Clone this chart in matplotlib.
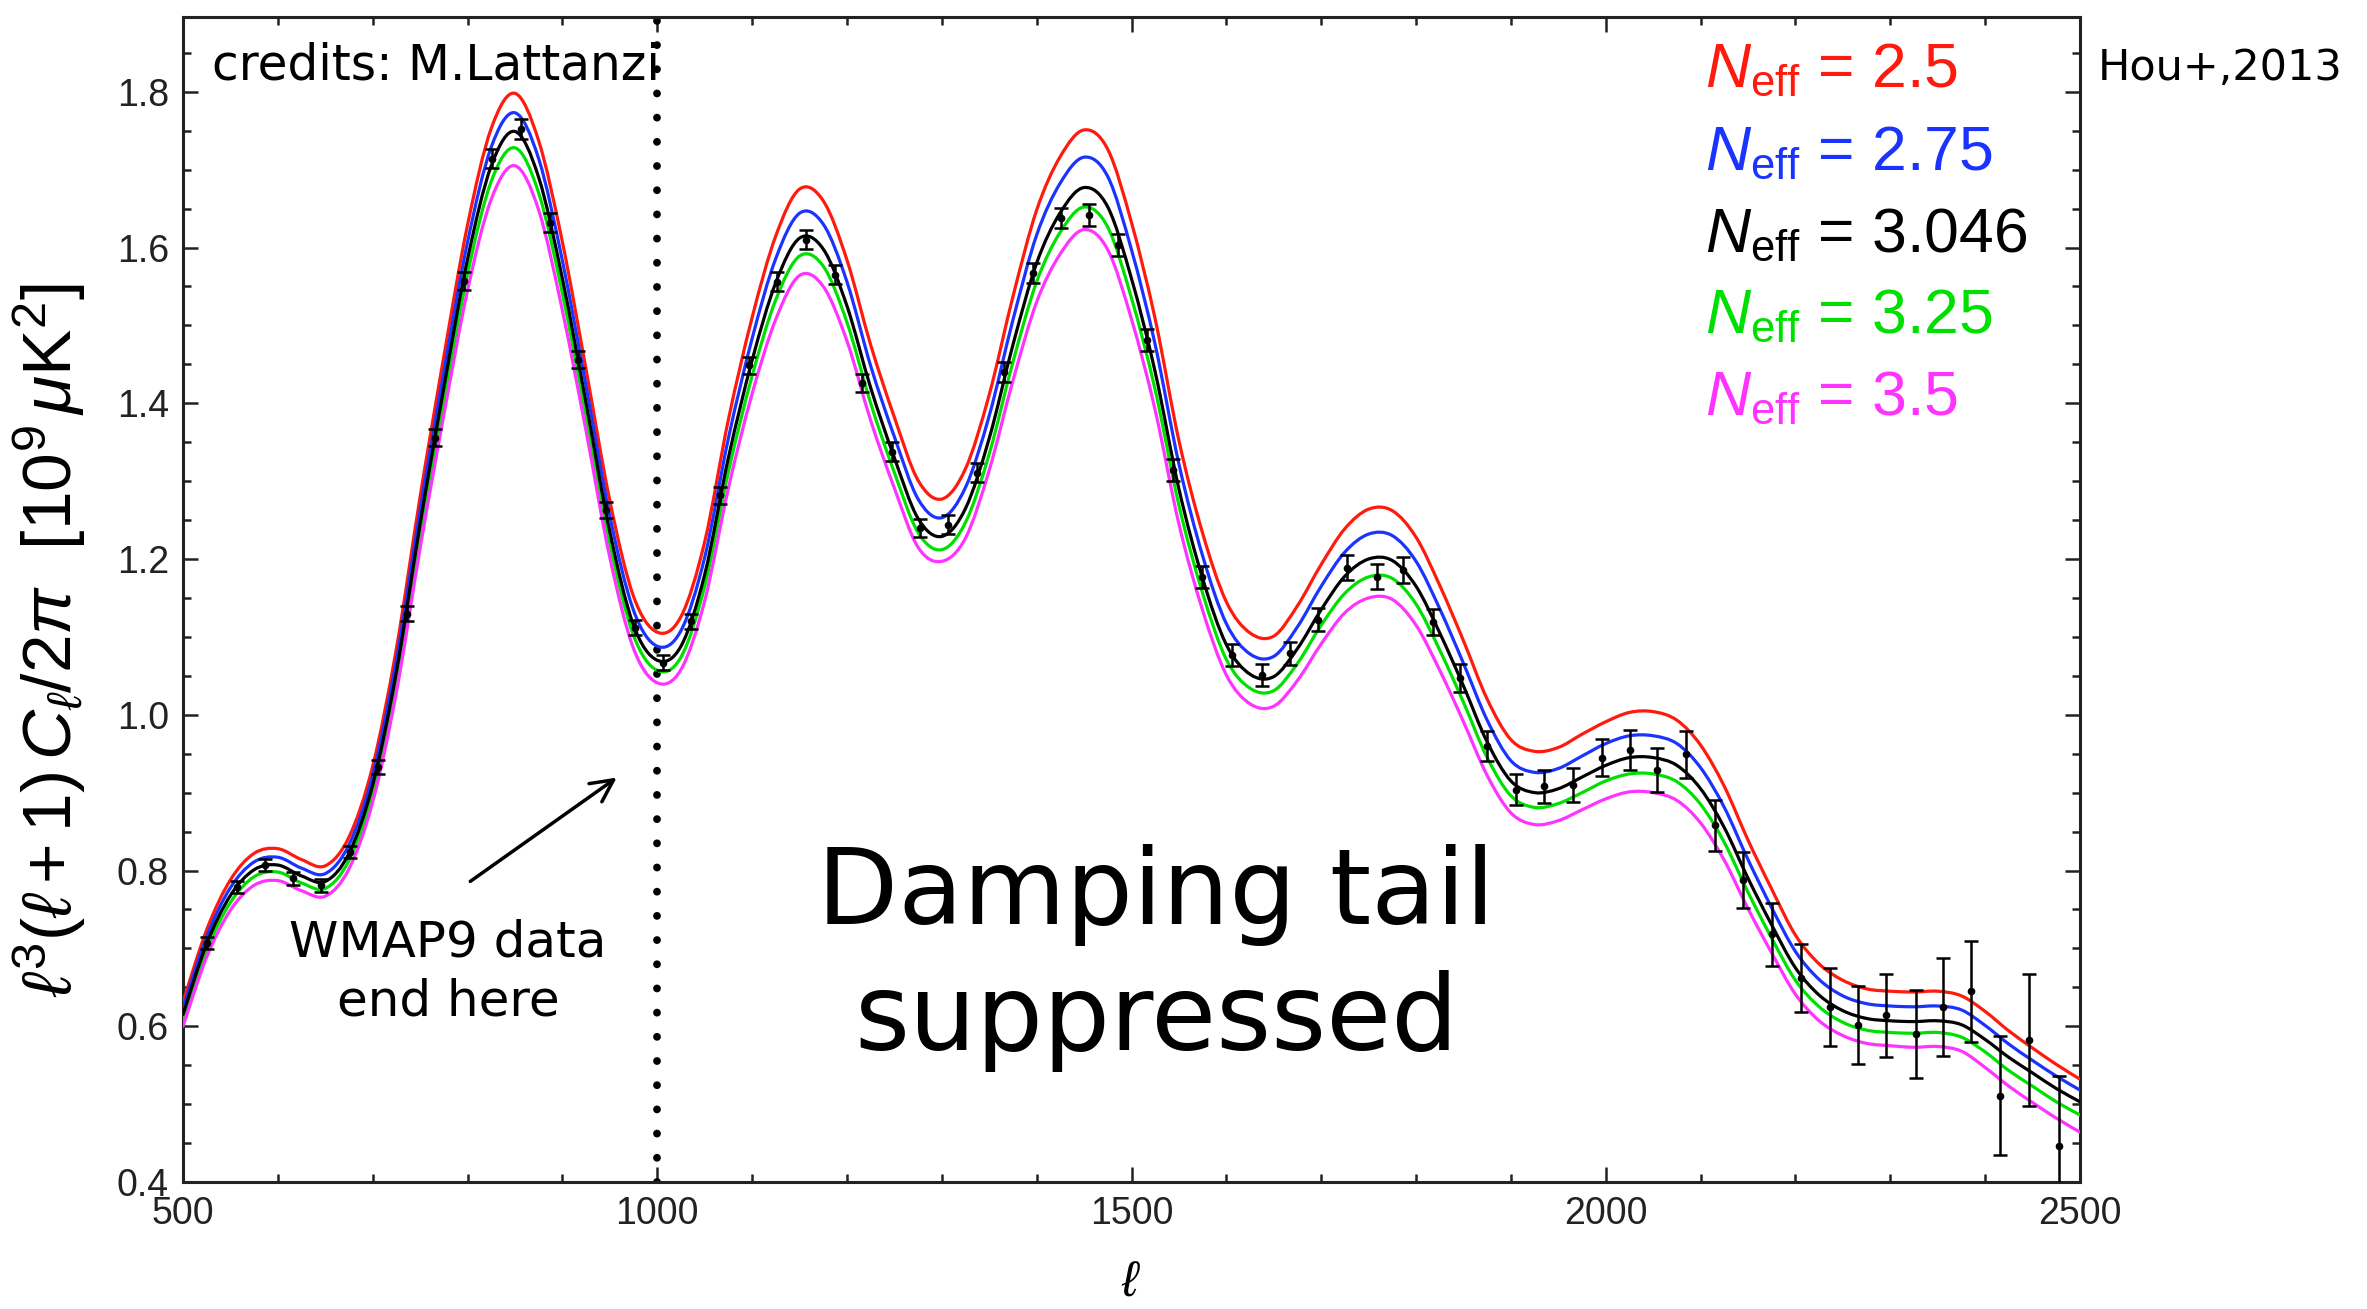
import numpy as np
import matplotlib
matplotlib.use('Agg')
import matplotlib.pyplot as plt
from matplotlib.path import Path
from matplotlib.patches import PathPatch
from matplotlib.ticker import MultipleLocator, FormatStrFormatter

plt.rcParams['font.family'] = ['Liberation Sans', 'DejaVu Sans']
plt.rcParams['mathtext.fontset'] = 'custom'
plt.rcParams['mathtext.rm'] = 'Liberation Sans'
plt.rcParams['mathtext.it'] = 'Liberation Sans:italic'
plt.rcParams['mathtext.bf'] = 'Liberation Sans:bold'

HAND = 'DejaVu Sans'

# ------------------------------------------------------------
# model spectra  l^3(l+1)C_l/2pi  [1e9 uK^2], sampled every 25 in l
# ------------------------------------------------------------
ell_model = list(range(500, 2525, 25))

cl_3046 = [0.615, 0.706, 0.768, 0.801, 0.807, 0.793, 0.786, 0.822, 0.910, 1.055,
           1.245, 1.420, 1.585, 1.705, 1.749, 1.690, 1.560, 1.400, 1.235, 1.115,
           1.070, 1.088, 1.180, 1.330, 1.455, 1.555, 1.612, 1.598, 1.525, 1.420,
           1.330, 1.252, 1.229, 1.265, 1.355, 1.475, 1.580, 1.645, 1.677, 1.652,
           1.560, 1.440, 1.290, 1.175, 1.090, 1.052, 1.049, 1.085, 1.135, 1.178,
           1.200, 1.198, 1.165, 1.105, 1.037, 0.965, 0.915, 0.900, 0.905, 0.920,
           0.935, 0.945, 0.945, 0.935, 0.905, 0.855, 0.790, 0.730, 0.675, 0.640,
           0.620, 0.610, 0.607, 0.606, 0.607, 0.602, 0.583, 0.560, 0.540, 0.520,
           0.503]

cl_25 = [0.631, 0.724, 0.788, 0.822, 0.828, 0.814, 0.806, 0.843, 0.934, 1.085,
         1.280, 1.460, 1.629, 1.753, 1.798, 1.737, 1.607, 1.443, 1.275, 1.152,
         1.106, 1.126, 1.222, 1.379, 1.510, 1.615, 1.675, 1.660, 1.584, 1.475,
         1.382, 1.301, 1.277, 1.316, 1.411, 1.537, 1.648, 1.717, 1.751, 1.726,
         1.632, 1.508, 1.352, 1.233, 1.145, 1.105, 1.101, 1.140, 1.193, 1.239,
         1.264, 1.262, 1.228, 1.166, 1.095, 1.020, 0.968, 0.953, 0.958, 0.975,
         0.991, 1.003, 1.004, 0.993, 0.961, 0.908, 0.839, 0.776, 0.717, 0.680,
         0.659, 0.648, 0.645, 0.644, 0.645, 0.639, 0.619, 0.594, 0.572, 0.551,
         0.532]

cl_275 = [0.623, 0.715, 0.778, 0.811, 0.817, 0.803, 0.796, 0.833, 0.922, 1.070,
          1.262, 1.440, 1.607, 1.729, 1.773, 1.714, 1.583, 1.422, 1.255, 1.134,
          1.088, 1.108, 1.202, 1.355, 1.483, 1.586, 1.644, 1.630, 1.556, 1.448,
          1.357, 1.277, 1.253, 1.292, 1.384, 1.507, 1.616, 1.683, 1.716, 1.691,
          1.597, 1.475, 1.322, 1.204, 1.117, 1.078, 1.075, 1.113, 1.165, 1.209,
          1.232, 1.230, 1.197, 1.136, 1.066, 0.993, 0.941, 0.926, 0.931, 0.947,
          0.963, 0.973, 0.973, 0.963, 0.932, 0.881, 0.814, 0.752, 0.696, 0.660,
          0.639, 0.629, 0.626, 0.625, 0.626, 0.621, 0.601, 0.577, 0.556, 0.536,
          0.518]

cl_325 = [0.608, 0.698, 0.759, 0.792, 0.798, 0.784, 0.777, 0.813, 0.900, 1.042,
          1.230, 1.403, 1.566, 1.685, 1.728, 1.670, 1.541, 1.383, 1.220, 1.102,
          1.057, 1.074, 1.165, 1.312, 1.435, 1.533, 1.589, 1.576, 1.504, 1.400,
          1.311, 1.234, 1.212, 1.247, 1.335, 1.453, 1.556, 1.620, 1.652, 1.626,
          1.535, 1.417, 1.269, 1.156, 1.071, 1.034, 1.031, 1.066, 1.115, 1.156,
          1.177, 1.175, 1.142, 1.083, 1.016, 0.945, 0.896, 0.881, 0.886, 0.900,
          0.915, 0.924, 0.924, 0.914, 0.885, 0.836, 0.772, 0.713, 0.659, 0.625,
          0.605, 0.595, 0.592, 0.591, 0.592, 0.586, 0.567, 0.543, 0.523, 0.503,
          0.486]

cl_35 = [0.600, 0.689, 0.749, 0.781, 0.787, 0.774, 0.767, 0.802, 0.888, 1.029,
         1.214, 1.385, 1.545, 1.662, 1.705, 1.648, 1.519, 1.364, 1.202, 1.085,
         1.041, 1.058, 1.146, 1.291, 1.412, 1.508, 1.564, 1.550, 1.480, 1.378,
         1.291, 1.215, 1.197, 1.227, 1.314, 1.429, 1.530, 1.592, 1.623, 1.597,
         1.508, 1.391, 1.245, 1.134, 1.051, 1.014, 1.011, 1.044, 1.091, 1.131,
         1.150, 1.148, 1.115, 1.057, 0.991, 0.922, 0.874, 0.859, 0.864, 0.878,
         0.892, 0.901, 0.900, 0.890, 0.861, 0.813, 0.751, 0.694, 0.641, 0.607,
         0.588, 0.578, 0.575, 0.573, 0.574, 0.568, 0.547, 0.523, 0.502, 0.482,
         0.464]

neff_labels = ['2.5', '2.75', '3.046', '3.25', '3.5']
neff_colors = ['#ff1a0d', '#1a33ff', '#000000', '#00e000', '#ff33ff']
neff_curves = [cl_25, cl_275, cl_3046, cl_325, cl_35]

# ------------------------------------------------------------
# band powers with 1-sigma errors
# ------------------------------------------------------------
data_ell = [525, 557, 586, 616, 646, 676, 706, 736, 766, 796,
            826, 856, 887, 916, 946, 977, 1006, 1036, 1066, 1097,
            1126, 1157, 1187, 1216, 1247, 1277, 1307, 1337, 1366, 1396,
            1426, 1455, 1486, 1516, 1544, 1574, 1606, 1638, 1667, 1697,
            1727, 1759, 1786, 1818, 1846, 1875, 1905, 1935, 1965, 1996,
            2026, 2054, 2085, 2115, 2145, 2175, 2206, 2236, 2266, 2295,
            2327, 2356, 2385, 2416, 2446, 2478]
data_cl = [0.707, 0.779, 0.807, 0.790, 0.781, 0.824, 0.933, 1.130, 1.356, 1.557,
           1.714, 1.752, 1.632, 1.456, 1.263, 1.112, 1.067, 1.120, 1.282, 1.449,
           1.556, 1.610, 1.565, 1.426, 1.338, 1.240, 1.244, 1.311, 1.440, 1.567,
           1.638, 1.642, 1.603, 1.481, 1.314, 1.177, 1.077, 1.051, 1.079, 1.122,
           1.189, 1.177, 1.186, 1.119, 1.047, 0.960, 0.904, 0.908, 0.910, 0.945,
           0.955, 0.929, 0.949, 0.858, 0.788, 0.718, 0.662, 0.625, 0.602, 0.614,
           0.590, 0.625, 0.645, 0.511, 0.582, 0.446]
data_err = [0.008, 0.008, 0.008, 0.008, 0.008, 0.008, 0.009, 0.010, 0.011, 0.012,
            0.012, 0.013, 0.012, 0.011, 0.010, 0.010, 0.010, 0.010, 0.011, 0.011,
            0.012, 0.012, 0.012, 0.012, 0.012, 0.012, 0.012, 0.012, 0.013, 0.013,
            0.013, 0.014, 0.014, 0.014, 0.014, 0.014, 0.014, 0.014, 0.015, 0.015,
            0.016, 0.016, 0.017, 0.017, 0.018, 0.019, 0.020, 0.021, 0.022, 0.024,
            0.026, 0.028, 0.030, 0.033, 0.036, 0.040, 0.044, 0.050, 0.050, 0.053,
            0.056, 0.063, 0.065, 0.076, 0.085, 0.090]

WMAP_END = 1000


def smooth_path(x, y):
    # cubic Bezier segments through the samples (Catmull-Rom tangents)
    pts = np.column_stack([x, y]).astype(float)
    n = len(pts)
    verts = [pts[0]]
    codes = [Path.MOVETO]
    for i in range(n - 1):
        p0 = pts[max(i - 1, 0)]
        p1 = pts[i]
        p2 = pts[i + 1]
        p3 = pts[min(i + 2, n - 1)]
        verts += [p1 + (p2 - p0) / 6.0, p2 - (p3 - p1) / 6.0, p2]
        codes += [Path.CURVE4] * 3
    return Path(verts, codes)


W, H = 2367, 1309
fig = plt.figure(figsize=(W / 100, H / 100), dpi=100)
ax = fig.add_axes([183 / W, 1 - 1182 / H, (2080 - 183) / W, (1182 - 17) / H])

for cl, col in zip(neff_curves, neff_colors):
    z = 4 if col == '#000000' else 3
    ax.add_patch(PathPatch(smooth_path(ell_model, cl), fill=False, edgecolor=col,
                           lw=2.3, joinstyle='round', capstyle='round', zorder=z))

ax.errorbar(data_ell, data_cl, yerr=data_err, fmt='o', color='black', ms=4.5,
            elinewidth=1.8, capsize=5, capthick=1.8, zorder=5)

# end of the WMAP9 multipole range
ax.axvline(WMAP_END, color='black', lw=5.6, linestyle=(0, (0.01, 3.1)),
           dash_capstyle='round', zorder=2)

ax.set_xlim(500, 2500)
ax.set_ylim(0.4, 1.896)
ax.xaxis.set_major_locator(MultipleLocator(500))
ax.xaxis.set_minor_locator(MultipleLocator(100))
ax.yaxis.set_major_locator(MultipleLocator(0.2))
ax.yaxis.set_minor_locator(MultipleLocator(0.05))
ax.yaxis.set_major_formatter(FormatStrFormatter('%.1f'))
ax.tick_params(which='both', direction='in', top=True, right=True, width=1.8,
               colors='#222222')
ax.tick_params(which='major', length=11, labelsize=27, pad=10)
ax.tick_params(which='minor', length=6)
for s in ax.spines.values():
    s.set_linewidth(2.2)
    s.set_color('#222222')

# axis titles
fig.text(1131 / W, 1 - 1283 / H, r'$\ell$', fontsize=36, ha='center', va='center')
fig.text(50 / W, 1 - 640 / H,
         r'$\ell^3(\ell+1)\,C_\ell/2\pi\ \ [10^9\,\mu\mathrm{K}^2]$',
         fontsize=50, rotation=90, ha='center', va='center')

# N_eff key
key_base = [87, 170, 252, 333, 415]
for lab, col, yb in zip(neff_labels, neff_colors, key_base):
    fig.text(1705 / W, 1 - yb / H, r'$N_{\mathrm{eff}}$ = ' + lab, color=col,
             fontsize=45, ha='left', va='baseline')

# notes
fig.text(212 / W, 1 - 80 / H, 'credits: M.Lattanzi', family=HAND, fontsize=35,
         ha='left', va='baseline')
fig.text(2098 / W, 1 - 80 / H, 'Hou+,2013', family=HAND, fontsize=31,
         ha='left', va='baseline')
fig.text(448 / W, 1 - 972 / H, 'WMAP9 data\nend here', family=HAND, fontsize=36,
         ha='center', va='center', linespacing=1.3)
fig.text(1156 / W, 1 - 958 / H, 'Damping tail\nsuppressed', family=HAND,
         fontsize=76, ha='center', va='center', linespacing=1.3)
ax.annotate('', xy=(619 / W, 1 - 776 / H), xytext=(468 / W, 1 - 883 / H),
            xycoords='figure fraction', textcoords='figure fraction',
            arrowprops=dict(arrowstyle='->', lw=2.5, color='black',
                            mutation_scale=40))

fig.savefig('out.png', dpi=100, facecolor='white')
